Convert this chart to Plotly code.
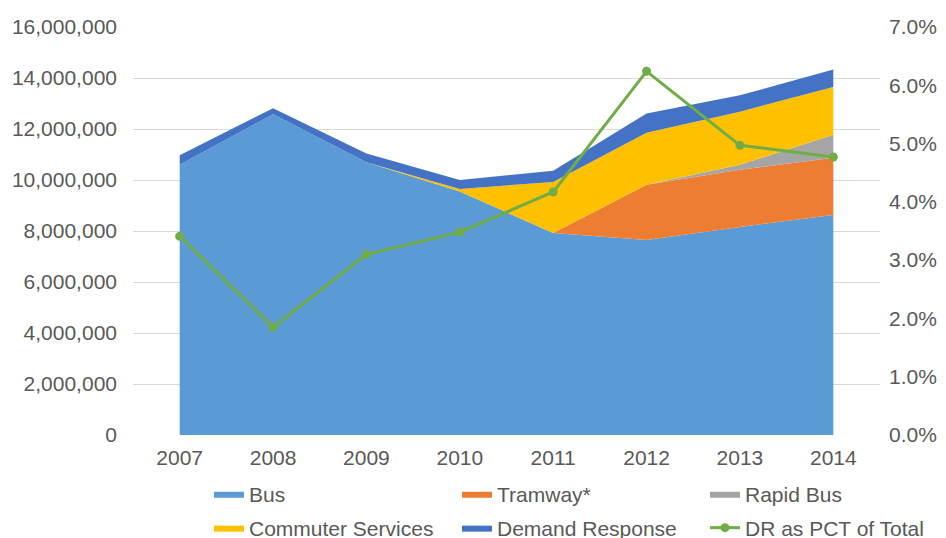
import plotly.graph_objects as go

years = ["2007", "2008", "2009", "2010", "2011", "2012", "2013", "2014"]
bus = [10600000, 12580000, 10700000, 9550000, 7920000, 7650000, 8160000, 8630000]
tramway = [0, 0, 0, 0, 0, 2160000, 2240000, 2240000]
rapid_bus = [0, 0, 0, 0, 0, 0, 200000, 900000]
commuter = [0, 0, 0, 100000, 2000000, 2040000, 2080000, 1880000]
demand_response = [370000, 237000, 340000, 350000, 440000, 760000, 640000, 680000]
dr_pct = [0.0341, 0.0185, 0.031, 0.0348, 0.0417, 0.0624, 0.0497, 0.0477]

x = list(range(len(years)))

series = [
    ("Bus", bus, "#5B9BD5", "legend"),
    ("Tramway*", tramway, "#ED7D31", "legend"),
    ("Rapid Bus", rapid_bus, "#A5A5A5", "legend"),
    ("Commuter Services", commuter, "#FFC000", "legend2"),
    ("Demand Response", demand_response, "#4472C4", "legend2"),
]

fig = go.Figure()
for name, vals, col, lg in series:
    fig.add_trace(go.Scatter(
        x=x, y=vals, name=name, stackgroup="one", mode="lines",
        line=dict(width=0, color=col), fillcolor=col, legend=lg,
    ))

fig.add_trace(go.Scatter(
    x=x, y=dr_pct, name="DR as PCT of Total", yaxis="y2", legend="legend2",
    mode="lines+markers", line=dict(color="#70AD47", width=3),
    marker=dict(color="#70AD47", size=9),
))

font_col = "#595959"
fs = 21
W, H = 946, 538
off = 8  # default page body margin
leg_common = dict(
    orientation="h", xanchor="left", yanchor="middle",
    xref="container", yref="container",
    entrywidth=203, entrywidthmode="pixels", traceorder="normal",
    font=dict(size=fs, color=font_col), bgcolor="rgba(0,0,0,0)",
)
fig.update_layout(
    width=W, height=H,
    margin=dict(l=133 - off, r=W - (880 - off), t=27 - off, b=H - (435 - off),
                autoexpand=False),
    paper_bgcolor="white", plot_bgcolor="white",
    font=dict(family="Liberation Sans, Arial, sans-serif", size=fs, color=font_col),
    xaxis=dict(
        tickmode="array", tickvals=x, ticktext=years, range=[-0.5, 7.5],
        showgrid=False, zeroline=False, showline=False, ticks="",
        ticklabelstandoff=8,
        tickfont=dict(size=fs, color=font_col),
    ),
    yaxis=dict(
        range=[0, 16000000], dtick=2000000, tickformat=",d",
        showgrid=True, gridcolor="#D9D9D9", gridwidth=1, zeroline=False,
        showline=False, ticks="", ticklabelstandoff=15,
        tickfont=dict(size=fs, color=font_col),
    ),
    yaxis2=dict(
        range=[0, 0.07], dtick=0.01, tickformat=".1%", overlaying="y",
        side="right", showgrid=False, zeroline=False, showline=False,
        ticks="", ticklabelstandoff=8,
        tickfont=dict(size=fs, color=font_col),
    ),
    legend=dict(x=201 / W, y=1 - (494 - off) / H, **leg_common),
    legend2=dict(x=201 / W, y=1 - (528 - off) / H, **leg_common),
    showlegend=True,
)

fig.write_html("out.html")
